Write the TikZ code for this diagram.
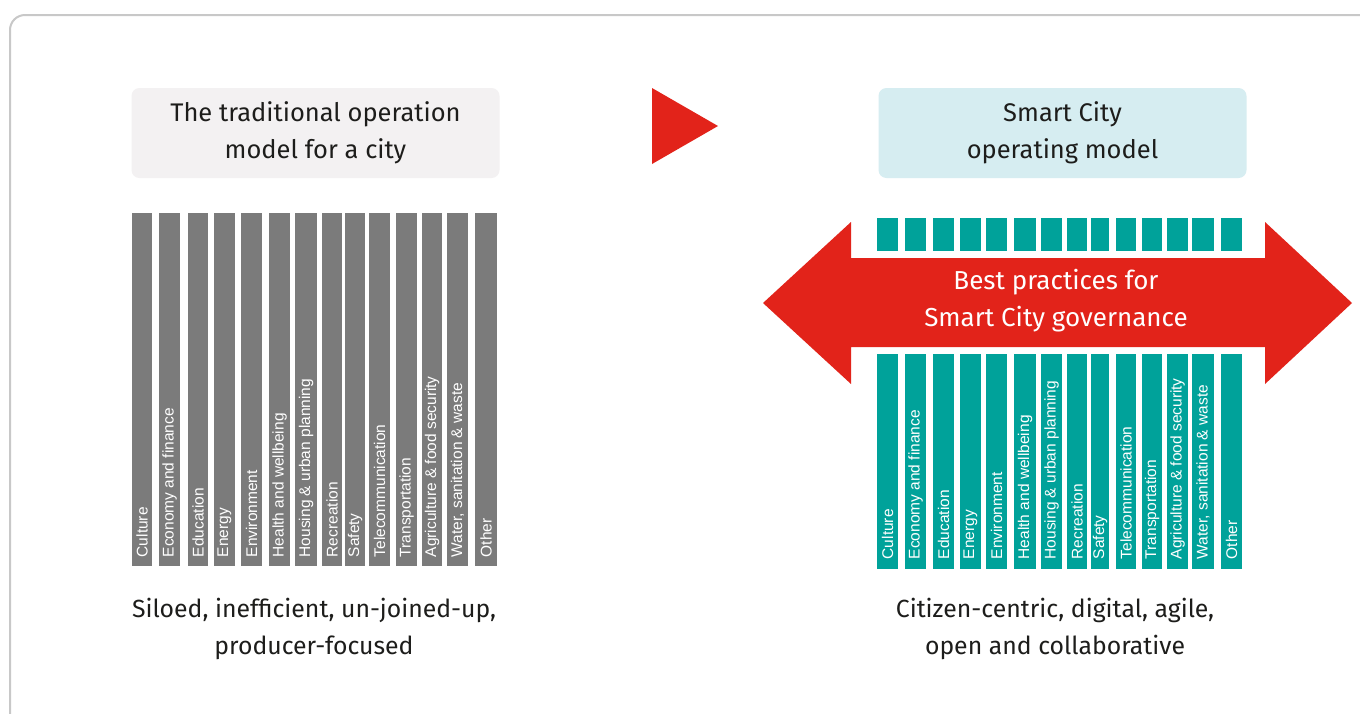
\documentclass[tikz,border=0pt]{standalone}
\usepackage{fontspec}
\setmainfont{Fira Sans}
\newfontfamily\barfont{Liberation Sans}
\usetikzlibrary{positioning}
\definecolor{siloGray}{HTML}{7B7B7B}
\definecolor{smartTeal}{HTML}{00A29A}
\definecolor{bandRed}{HTML}{E2231A}
\definecolor{headGray}{HTML}{F3F1F2}
\definecolor{headCyan}{HTML}{D6EDF1}
\definecolor{frameGray}{HTML}{C8C8C8}
\definecolor{inkDark}{HTML}{1D1D1B}
\tikzstyle{heading} = [rounded corners=8pt,
                       minimum width=368pt,
                       minimum height=90pt,
                       align=center,
                       text=inkDark,
                       font=\fontsize{25.5}{37}\selectfont]
\tikzstyle{caption} = [align=center,
                       text=inkDark,
                       font=\fontsize{24.8}{37}\selectfont]
\tikzstyle{silo}    = [inner sep=0pt,
                       anchor=north]
\tikzstyle{barlabel}= [rotate=90,
                       anchor=west,
                       inner sep=0pt,
                       text=white,
                       font=\barfont\fontsize{15.5}{17}\selectfont]
\tikzstyle{bandtext}= [align=center,
                       text=white,
                       font=\fontsize{26}{37}\selectfont]

\begin{document}
\begin{tikzpicture}[x=1pt, y=-1pt]

  \clip (0,0) rectangle (1360,713);
  \fill[white] (0,0) rectangle (1360,713);

  % Frame
  \draw[frameGray, line width=2pt, rounded corners=15pt] (10,15) rectangle (1374,728);

  % Headings
  \node[heading, fill=headGray] (old) at (315.5,133) {The traditional operation\\model for a city};
  \node[heading, fill=headCyan] (new) at (1062.5,133) {Smart City\\operating model};
  \fill[bandRed] (652,88) -- (718,126) -- (652,164) -- cycle;

  % Silos, old model
  \foreach \xl/\xr/\name [count=\i] in {132/152/Culture, 159/180/Economy and finance,
      188/208/Education, 214/235/Energy, 241/262/Environment, 269/290/Health and wellbeing,
      295/317/Housing \& urban planning, 322/342/Recreation, 345/365/Safety,
      369/390/Telecommunication, 396/417/Transportation, 422/442/Agriculture \& food security,
      447/468/{Water, sanitation \& waste}, 475/497/Other} {
    \node[silo, fill=siloGray, minimum width={(\xr-\xl)*1pt}, minimum height=353pt]
      (ls\i) at ({(\xl+\xr)/2},213) {};
    \node[barlabel] at ([yshift=9pt]ls\i.south) {\name};
  }

  % Silos, smart model
  \foreach \xl/\xr/\name [count=\i] in {877/898/Culture, 905/926/Economy and finance,
      933/954/Education, 960/981/Energy, 986/1007/Environment, 1014/1036/Health and wellbeing,
      1041/1062/Housing \& urban planning, 1067/1087/Recreation, 1091/1109/Safety,
      1116/1136/Telecommunication, 1142/1162/Transportation, 1167/1188/Agriculture \& food security,
      1192/1214/{Water, sanitation \& waste}, 1221/1242/Other} {
    \node[silo, fill=smartTeal, minimum width={(\xr-\xl)*1pt}, minimum height=33pt]
      (rt\i) at ({(\xl+\xr)/2},218) {};
    \node[silo, fill=smartTeal, minimum width={(\xr-\xl)*1pt}, minimum height=215pt]
      (rs\i) at ({(\xl+\xr)/2},354) {};
    \node[barlabel] at ([yshift=10pt]rs\i.south) {\name};
  }

  % Governance band
  \fill[bandRed] (763,303) -- (851,222) -- (851,258) -- (1265,258) -- (1265,222)
    -- (1352,303) -- (1265,384) -- (1265,347) -- (851,347) -- (851,384) -- cycle;
  \node[bandtext] (best) at (1056,301) {Best practices for\\Smart City governance};

  % Captions
  \node[caption] (oldcap) at (314,629) {Siloed, inefficient, un-joined-up,\\producer-focused};
  \node[caption] (newcap) at (1055,629) {Citizen-centric, digital, agile,\\open and collaborative};

\end{tikzpicture}
\end{document}
